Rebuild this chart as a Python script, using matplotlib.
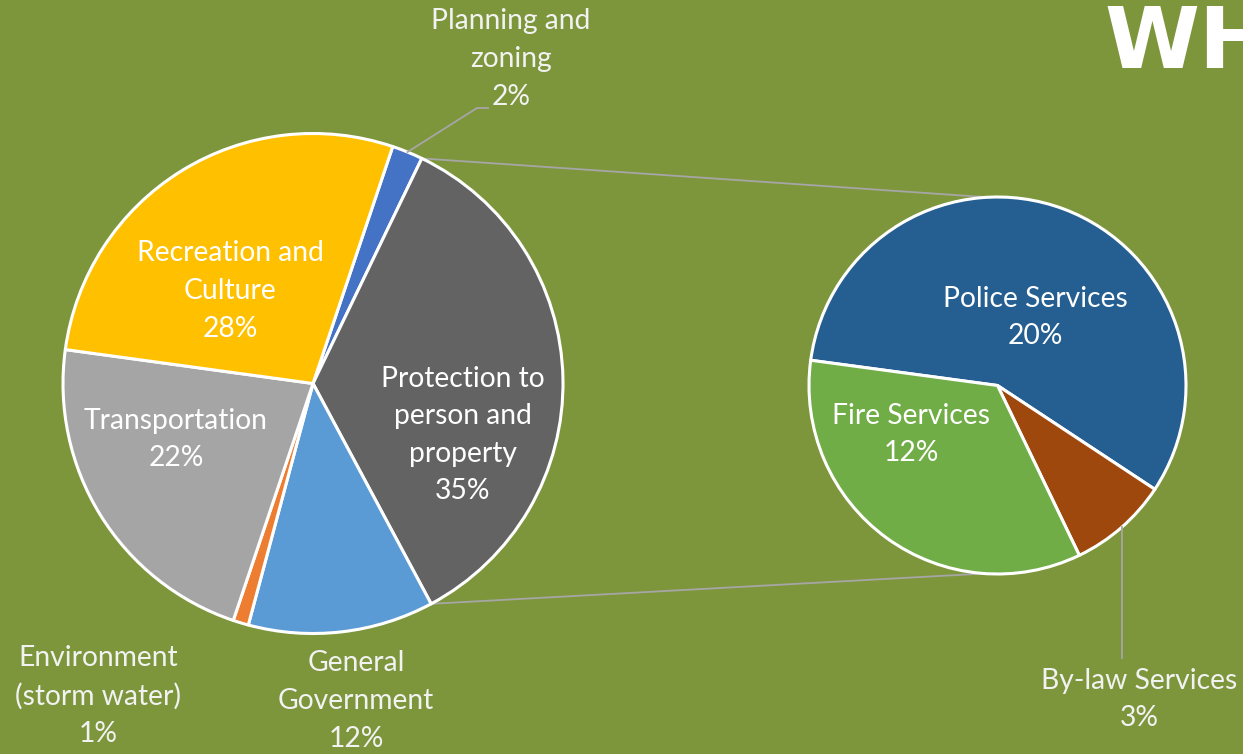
import numpy as np
import matplotlib
matplotlib.use("Agg")
import matplotlib.pyplot as plt

# Spending shares (%), main pie and the breakdown of "Protection to person and property"
main_labels = ["Planning and\nzoning", "Protection to\nperson and\nproperty", "General\nGovernment",
               "Environment\n(storm water)", "Transportation", "Recreation and\nCulture"]
main_values = [2, 35, 12, 1, 22, 28]
main_colors = ["#4472C4", "#636363", "#5B9BD5", "#ED7D31", "#A5A5A5", "#FFC000"]

sub_labels = ["Police Services", "By-law Services", "Fire Services"]
sub_values = [20, 3, 12]
sub_colors = ["#255E91", "#9E480E", "#70AD47"]

BG = "#7D963C"
W, H = 1243, 754
FONT = "Lato"

fig = plt.figure(figsize=(W / 100, H / 100), dpi=100, facecolor=BG)
ax = fig.add_axes([0, 0, 1, 1])
ax.set_facecolor(BG)


def py(y):
    # pixel row (from top) -> data y
    return H - y


main_c, main_r, main_start = (313, py(383.5)), 250, 71.4
sub_c, sub_r, sub_start = (997.5, py(385.5)), 188.5, 172.3

wedge_kw = dict(edgecolor="white", linewidth=2.2, joinstyle="round")
ax.pie(main_values, colors=main_colors, startangle=main_start, counterclock=False,
       center=main_c, radius=main_r, wedgeprops=wedge_kw, frame=True)
ax.pie(sub_values, colors=sub_colors, startangle=sub_start, counterclock=False,
       center=sub_c, radius=sub_r, wedgeprops=wedge_kw, frame=True)


def edge_point(center, r, ang):
    a = np.deg2rad(ang)
    return center[0] + r * np.cos(a), center[1] + r * np.sin(a)


# connector lines from the exploded wedge to the secondary pie
cum = np.cumsum([0] + main_values) / sum(main_values) * 360
a_top = main_start - cum[1]
a_bot = main_start - cum[2]
p1 = edge_point(main_c, main_r, a_top)
p2 = edge_point(main_c, main_r, a_bot)
q1 = edge_point(sub_c, sub_r, 93)
q2 = edge_point(sub_c, sub_r, -94)
line_kw = dict(color="#A6A6A6", linewidth=1.3, zorder=0.5, solid_capstyle="butt")
ax.plot([p1[0], q1[0]], [p1[1], q1[1]], **line_kw)
ax.plot([p2[0], q2[0]], [p2[1], q2[1]], **line_kw)

# leader for the planning slice
mid_plan = main_start - (cum[0] + cum[1]) / 2
lp = edge_point(main_c, main_r, mid_plan)
ax.plot([lp[0], 477, 488], [lp[1], py(108), py(108)], color="#A6A6A6", linewidth=1.3, zorder=3)

# leader for the by-law slice
sub_cum = np.cumsum([0] + sub_values) / sum(sub_values) * 360
mid_bylaw = sub_start - (sub_cum[1] + sub_cum[2]) / 2
bp = edge_point(sub_c, sub_r, mid_bylaw)
ax.plot([bp[0], bp[0]], [bp[1], py(658)], color="#A6A6A6", linewidth=1.3, zorder=3)

# data labels: (x, y of text centre) in pixels
main_pos = [(511, 59), (463, 435), (356, 701), (98, 696), (176, 439.5), (230, 291)]
main_tc = ["#F2F2F2", "white", "#F2F2F2", "#F2F2F2", "white", "white"]
sub_pos = [(1035, 317.5), (1139, 699.5), (911, 434.5)]
sub_tc = ["white", "#F2F2F2", "white"]

txt_kw = dict(ha="center", va="center", fontsize=20.3, family=FONT, linespacing=1.55, zorder=5)
for lab, v, (x, y), c in zip(main_labels, main_values, main_pos, main_tc):
    ax.text(x, py(y), f"{lab}\n{v}%", color=c, **txt_kw)
for lab, v, (x, y), c in zip(sub_labels, sub_values, sub_pos, sub_tc):
    ax.text(x, py(y), f"{lab}\n{v}%", color=c, **txt_kw)

ax.text(1104, py(68), "WH", ha="left", va="baseline", fontsize=62, fontweight="bold",
        family="DejaVu Sans", color="white")

ax.set_xlim(0, W)
ax.set_ylim(0, H)
ax.set_aspect("equal", adjustable="datalim")
ax.axis("off")

fig.savefig("out.png", dpi=100, facecolor=BG)
